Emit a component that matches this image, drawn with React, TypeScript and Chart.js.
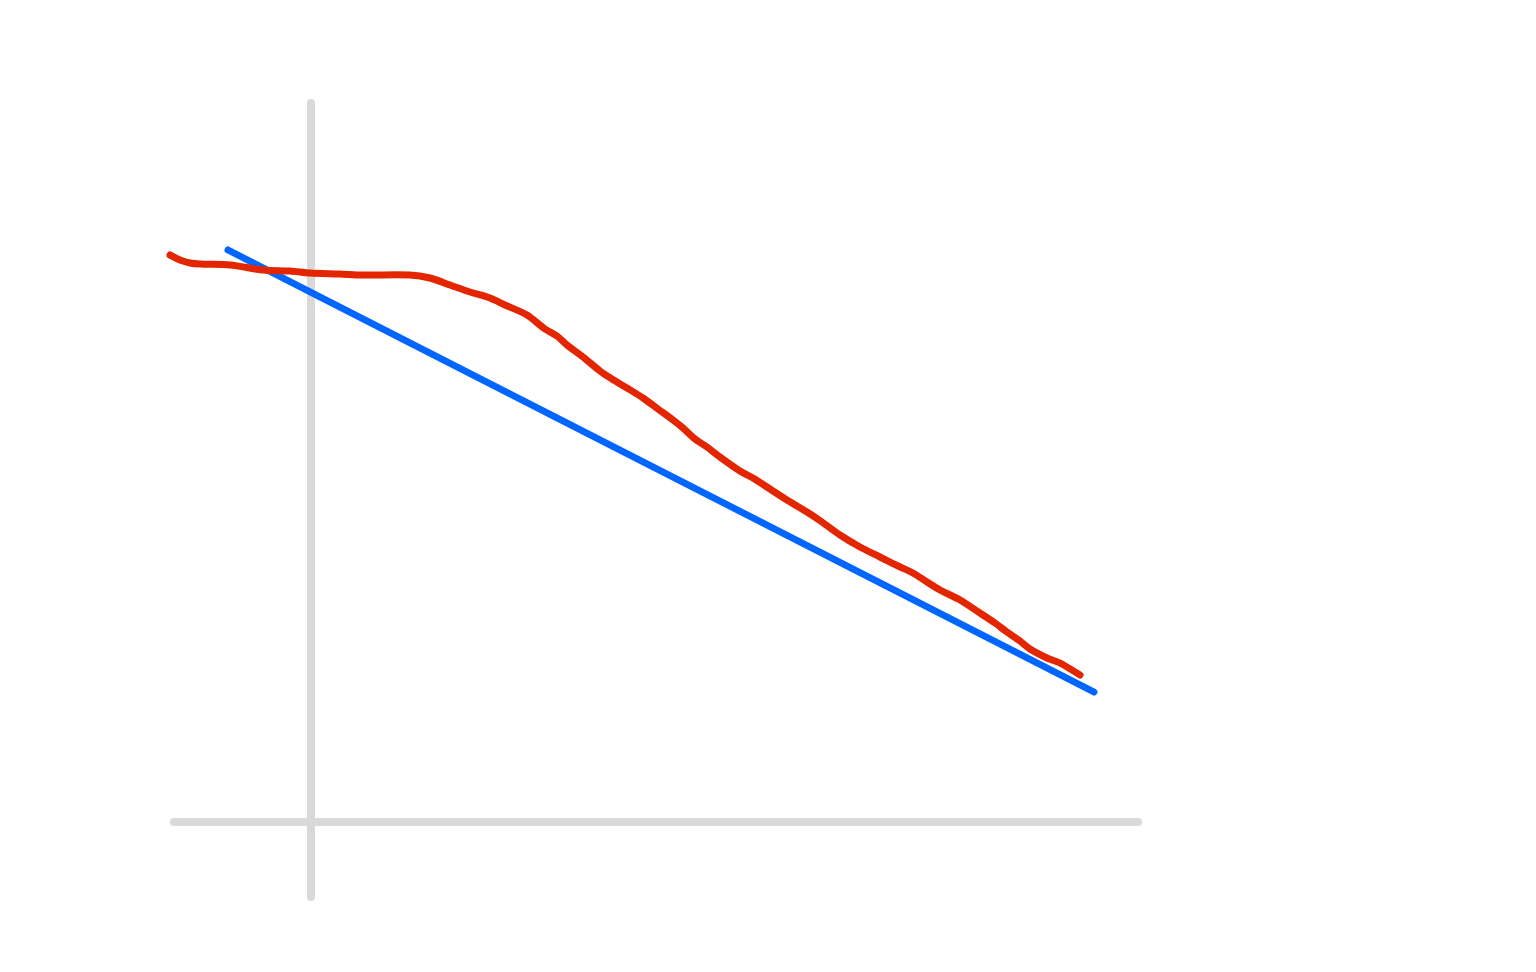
import React, { useEffect, useRef } from "react";
import { Chart, registerables } from "chart.js";

Chart.register(...registerables);

// Observed series (red, wavy)
const observedX = [
  -1.41, -1.31, -1.21, -1.11, -0.81, -0.48, -0.21, -0.01, 0.29, 0.52, 0.99, 1.19, 1.39, 1.59,
  1.79, 1.94, 2.16, 2.34, 2.46, 2.56, 2.72, 2.89, 3.01, 3.16, 3.32, 3.47, 3.62, 3.72, 3.84,
  3.96, 4.09, 4.29, 4.42, 4.59, 4.76, 4.96, 5.11, 5.29, 5.49, 5.69, 5.87, 6.02, 6.16, 6.29,
  6.49, 6.69, 6.84, 6.96, 7.09, 7.19, 7.36, 7.49, 7.69,
];
const observedY = [
  5.67, 5.62, 5.59, 5.58, 5.57, 5.52, 5.51, 5.49, 5.48, 5.47, 5.47, 5.44, 5.37, 5.3, 5.24,
  5.17, 5.07, 4.93, 4.86, 4.77, 4.65, 4.51, 4.43, 4.34, 4.24, 4.13, 4.02, 3.94, 3.83, 3.75,
  3.65, 3.51, 3.44, 3.33, 3.22, 3.1, 3.0, 2.87, 2.75, 2.65, 2.56, 2.49, 2.4, 2.32, 2.22, 2.09,
  1.99, 1.9, 1.81, 1.73, 1.64, 1.59, 1.47,
];

// Fitted trend (blue, straight)
const trendX = [-0.83, 7.83];
const trendY = [5.72, 1.3];

// Axis lines (gray)
const hAxisX = [-1.37, 8.27];
const hAxisY = [0, 0];
const vAxisX = [0, 0];
const vAxisY = [-0.75, 7.19];

const X_MIN = -3.11;
const X_MAX = 12.25;
const Y_MIN = -1.5;
const Y_MAX = 8.22;

const zip = (xs: number[], ys: number[]) => xs.map((x, i) => ({ x, y: ys[i] }));

export default function App() {
  const canvasRef = useRef<HTMLCanvasElement | null>(null);

  useEffect(() => {
    if (!canvasRef.current) return;
    const gray = "#d9d9d9";
    const chart = new Chart(canvasRef.current, {
      type: "line",
      data: {
        datasets: [
          {
            label: "observed",
            data: zip(observedX, observedY),
            borderColor: "#e32600",
            borderWidth: 7,
            tension: 0.3,
            pointRadius: 0,
            borderCapStyle: "round",
            borderJoinStyle: "round",
            order: 1,
          },
          {
            label: "trend",
            data: zip(trendX, trendY),
            borderColor: "#0066ff",
            borderWidth: 7,
            pointRadius: 0,
            borderCapStyle: "round",
            order: 2,
          },
          {
            label: "x-axis",
            data: zip(hAxisX, hAxisY),
            borderColor: gray,
            borderWidth: 8,
            pointRadius: 0,
            borderCapStyle: "round",
            order: 3,
          },
          {
            label: "y-axis",
            data: zip(vAxisX, vAxisY),
            borderColor: gray,
            borderWidth: 8,
            pointRadius: 0,
            borderCapStyle: "round",
            order: 3,
          },
        ],
      },
      options: {
        animation: false,
        responsive: false,
        maintainAspectRatio: false,
        devicePixelRatio: 1,
        layout: { padding: 0 },
        scales: {
          x: { type: "linear", min: X_MIN, max: X_MAX, display: false },
          y: { type: "linear", min: Y_MIN, max: Y_MAX, display: false },
        },
        plugins: {
          legend: { display: false },
          tooltip: { enabled: false },
        },
        events: [],
      } as any,
    });
    return () => chart.destroy();
  }, []);

  return (
    <div
      style={{
        position: "fixed",
        left: 0,
        top: 0,
        width: 1536,
        height: 972,
        background: "#ffffff",
      }}
    >
      <canvas ref={canvasRef} width={1536} height={972} style={{ display: "block" }} />
    </div>
  );
}
